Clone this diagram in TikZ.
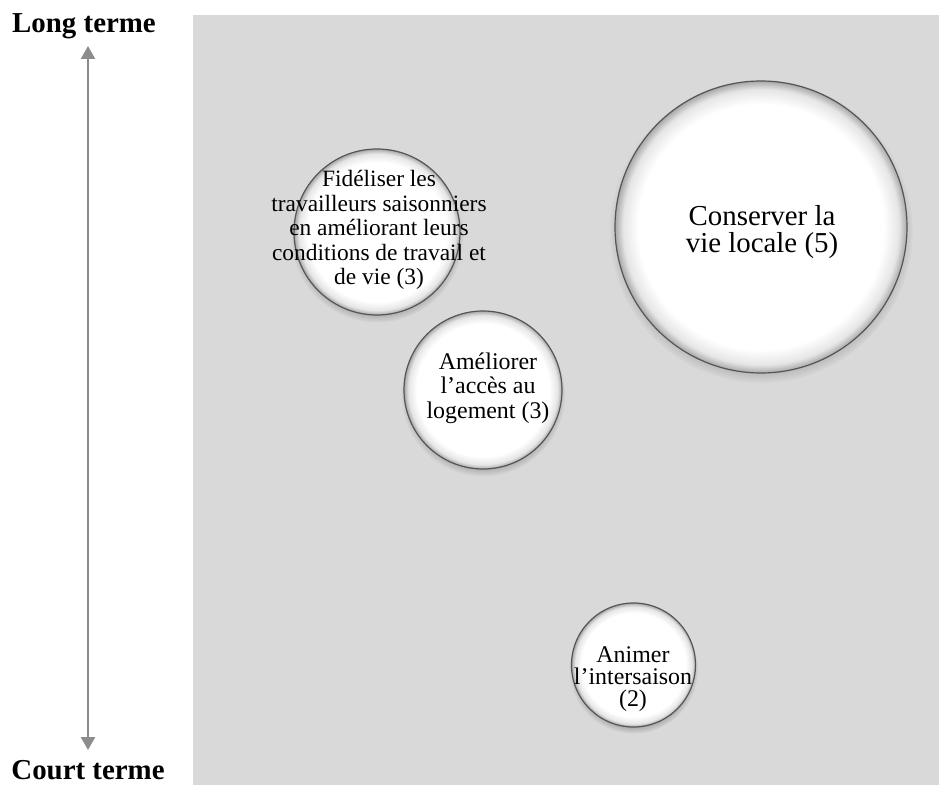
\documentclass[tikz,border=0pt]{standalone}
\usepackage{fontspec}
\setmainfont{Liberation Serif}
\usetikzlibrary{arrows.meta,shadows}

\definecolor{panel}{HTML}{D9D9D9}
\definecolor{axisgray}{HTML}{8C8C8C}
\definecolor{rimline}{HTML}{555555}

% white disc with a soft grey rim just inside its edge
\pgfdeclareradialshading{bubblerim}{\pgfpoint{0bp}{0bp}}{%
  color(0bp)=(white); color(21bp)=(white);
  color(23.6bp)=(white!90!black); color(25bp)=(white!66!black);
  color(50bp)=(white!66!black)}

\tikzset{
  bubble/.style={circle, inner sep=0pt, draw=rimline, line width=1.2bp,
    shading=bubblerim,
    circular drop shadow={shadow xshift=0bp, shadow yshift=-4bp,
      shadow scale=1.04, opacity=0.55, fill=black!60}},
  bubbletext/.style={align=center, inner sep=0pt, text=black},
  axislabel/.style={font=\bfseries\fontsize{29}{31}\selectfont, inner sep=0pt},
  axisline/.style={draw=axisgray, line width=2.2bp,
    {Triangle[width=14bp,length=13bp]}-{Triangle[width=14bp,length=13bp]}}
}

\begin{document}
\begin{tikzpicture}[x=1bp,y=-1bp]
  \useasboundingbox (0,0) rectangle (939,785);
  \fill[panel] (193,15) rectangle (939,785);

  % time axis
  \coordinate (axtop) at (88,46);
  \coordinate (axbot) at (88,750);
  \draw[axisline] (axtop) -- (axbot);
  \node[axislabel, anchor=base] (longt) at (84,33) {Long terme};
  \node[axislabel, anchor=base] (courtt) at (88,779) {Court terme};

  % bubbles
  \node[bubble, minimum size=166bp] (fid) at (377,232) {};
  \node[bubble, minimum size=292bp] (cons) at (761,227) {};
  \node[bubble, minimum size=158bp] (amel) at (483,390) {};
  \node[bubble, minimum size=124bp] (anim) at (633.5,665) {};

  \node[bubbletext, font=\fontsize{23.5}{24.5}\selectfont] (fidtext) at (379,230)
    {Fidéliser les\\travailleurs saisonniers\\en améliorant leurs\\conditions de travail et\\de vie (3)};
  \node[bubbletext, font=\fontsize{29}{28}\selectfont] (constext) at (762,232)
    {Conserver la\\vie locale (5)};
  \node[bubbletext, font=\fontsize{24}{24.5}\selectfont] (ameltext) at (488,388)
    {Améliorer\\l’accès au\\logement (3)};
  \node[bubbletext, font=\fontsize{24}{22}\selectfont] (animtext) at (633,679)
    {Animer\\l’intersaison\\(2)};
\end{tikzpicture}
\end{document}
